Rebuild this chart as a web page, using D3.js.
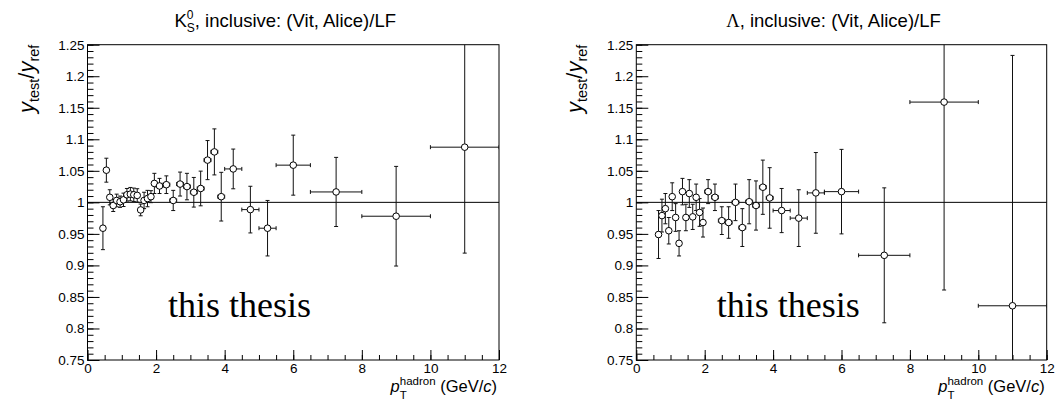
<!DOCTYPE html>
<html>
<head>
<meta charset="utf-8">
<script src="https://cdn.jsdelivr.net/npm/d3@7"></script>
<style>
  html, body { margin: 0; padding: 0; background: #fff; }
  svg { display: block; }
</style>
</head>
<body>
<svg id="chart" width="1055" height="399"></svg>
<script>
// ---------- data ----------
const k0sX    = [0.45,0.55,0.65,0.75,0.85,0.95,1.05,1.15,1.25,1.35,1.45,1.55,1.65,1.75,1.85,1.95,
                 2.1,2.3,2.5,2.7,2.9,3.1,3.3,3.5,3.7,3.9,4.25,4.75,5.25,6,7.25,9,11];
const k0sXerr = [0.05,0.05,0.05,0.05,0.05,0.05,0.05,0.05,0.05,0.05,0.05,0.05,0.05,0.05,0.05,0.05,
                 0.1,0.1,0.1,0.1,0.1,0.1,0.1,0.1,0.1,0.1,0.25,0.25,0.25,0.5,0.75,1,1];
const k0sY    = [0.959,1.051,1.008,0.995,1.003,1.001,1.004,1.012,1.013,1.012,1.011,0.988,1.003,1.006,1.009,1.030,
                 1.026,1.028,1.003,1.029,1.025,1.016,1.022,1.067,1.080,1.009,1.053,0.9885,0.959,1.059,1.0165,0.978,1.0875];
const k0sYerr = [0.034,0.019,0.012,0.0095,0.010,0.009,0.0106,0.010,0.0106,0.0106,0.0106,0.0093,0.013,0.013,0.0095,0.016,
                 0.012,0.014,0.016,0.019,0.021,0.0235,0.0275,0.031,0.0365,0.0386,0.0315,0.037,0.044,0.0476,0.0548,0.079,0.168];

const lamX    = [0.65,0.75,0.85,0.95,1.05,1.15,1.25,1.35,1.45,1.55,1.65,1.75,1.85,1.95,
                 2.1,2.3,2.5,2.7,2.9,3.1,3.3,3.5,3.7,3.9,4.25,4.75,5.25,6,7.25,9,11];
const lamXerr = [0.05,0.05,0.05,0.05,0.05,0.05,0.05,0.05,0.05,0.05,0.05,0.05,0.05,0.05,
                 0.1,0.1,0.1,0.1,0.1,0.1,0.1,0.1,0.1,0.1,0.25,0.25,0.25,0.5,0.75,1,1];
const lamY    = [0.949,0.979,0.990,0.955,1.009,0.976,0.935,1.017,0.976,1.014,0.977,1.008,0.984,0.968,
                 1.017,1.008,0.971,0.968,1.000,0.960,1.001,0.995,1.024,1.007,0.987,0.975,1.015,1.017,0.916,1.159,0.836];
const lamYerr = [0.038,0.026,0.024,0.021,0.022,0.022,0.020,0.021,0.021,0.022,0.020,0.021,0.022,0.023,
                 0.019,0.021,0.022,0.025,0.029,0.030,0.035,0.039,0.043,0.048,0.035,0.045,0.064,0.067,0.107,0.298,0.397];

const xTickValues = [0,2,4,6,8,10,12];
const xTickLabels = ["0","2","4","6","8","10","12"];
const yTickValues = [0.75,0.8,0.85,0.9,0.95,1,1.05,1.1,1.15,1.2,1.25];
const yTickLabels = ["0.75","0.8","0.85","0.9","0.95","1","1.05","1.1","1.15","1.2","1.25"];
const xDomain = [0,12];
const yDomain = [0.75,1.25];
const refLine = 1;
const watermark = "this thesis";

// ---------- drawing ----------
const svg = d3.select("#chart");
const SANS = "'Liberation Sans', Arial, Helvetica, sans-serif";
const SERIF = "'Liberation Serif', 'Times New Roman', serif";

function rich(g, parts) {
  let x = 0, lastStart = 0;
  parts.forEach(p => {
    const start = p.stack ? lastStart : x;
    const el = g.append("text")
      .attr("x", start).attr("y", p.dy || 0)
      .style("font-size", p.size + "px")
      .style("font-family", p.family || SANS)
      .style("font-style", p.italic ? "italic" : "normal")
      .attr("fill", "#000")
      .text(p.t);
    const w = el.node().getComputedTextLength();
    if (p.stack) { x = Math.max(x, start + w); }
    else { lastStart = start; x = start + w; }
  });
  return x;
}

const panels = [
  { id: 0, x0: 87.5, x1: 499, X: k0sX, XE: k0sXerr, Y: k0sY, YE: k0sYerr,
    title: [{t:"K",size:18.5},{t:"0",size:12,dy:-8},{t:"S",size:12,dy:5.5,stack:true},{t:", inclusive: (Vit, Alice)/LF",size:18.5}] },
  { id: 1, x0: 636.3, x1: 1046.7, X: lamX, XE: lamXerr, Y: lamY, YE: lamYerr,
    title: [{t:"\u039B",size:18.5,family:SERIF},{t:", inclusive: (Vit, Alice)/LF",size:18.5}] }
];
const yTop = 44.7, yBot = 360;

panels.forEach(P => {
  const x = d3.scaleLinear().domain(xDomain).range([P.x0, P.x1]);
  const y = d3.scaleLinear().domain(yDomain).range([yBot, yTop]);
  const g = svg.append("g");

  const clipId = "clip" + P.id;
  svg.append("clipPath").attr("id", clipId).append("rect")
    .attr("x", P.x0).attr("y", yTop).attr("width", P.x1 - P.x0).attr("height", yBot - yTop);

  // frame
  g.append("rect").attr("x", P.x0).attr("y", yTop)
    .attr("width", P.x1 - P.x0).attr("height", yBot - yTop)
    .attr("fill", "none").attr("stroke", "#000").attr("stroke-width", 1);

  // y axis minor
  const yMinor = d3.range(0.75, 1.2501, 0.01);
  g.append("g").attr("transform", `translate(${P.x0},0)`)
    .call(d3.axisLeft(y).tickValues(yMinor).tickSize(-6).tickFormat(""))
    .call(a => a.select(".domain").remove());
  // y axis major
  g.append("g").attr("transform", `translate(${P.x0},0)`)
    .call(d3.axisLeft(y).tickValues(yTickValues).tickSize(-12).tickPadding(3)
      .tickFormat((d,i) => yTickLabels[i]))
    .call(a => a.select(".domain").remove())
    .call(a => a.selectAll("text").style("font-size", "13.5px").style("font-family", SANS).attr("fill","#000"));
  // x axis minor
  const xMinor = d3.range(0, 12.01, 0.5);
  g.append("g").attr("transform", `translate(0,${yBot})`)
    .call(d3.axisBottom(x).tickValues(xMinor).tickSize(-5).tickFormat(""))
    .call(a => a.select(".domain").remove());
  // x axis major
  g.append("g").attr("transform", `translate(0,${yBot})`)
    .call(d3.axisBottom(x).tickValues(xTickValues).tickSize(-10).tickPadding(3)
      .tickFormat((d,i) => xTickLabels[i]))
    .call(a => a.select(".domain").remove())
    .call(a => a.selectAll("text").style("font-size", "13.5px").style("font-family", SANS).attr("fill","#000"));
  g.selectAll(".tick line").attr("stroke", "#000");

  // reference line
  g.append("line").attr("x1", x(xDomain[0])).attr("x2", x(xDomain[1]))
    .attr("y1", y(refLine)).attr("y2", y(refLine)).attr("stroke", "#000").attr("stroke-width", 1);

  // watermark
  g.append("text").attr("x", x(2.35)).attr("y", 317)
    .style("font-family", SERIF).style("font-size", "36px").attr("fill", "#000").text(watermark);

  // data
  const data = P.X.map((v,i) => ({x:v, xe:P.XE[i], y:P.Y[i], ye:P.YE[i]}));
  const eg = g.append("g").attr("clip-path", `url(#${clipId})`).attr("stroke", "#111").attr("stroke-width", 1);
  const cap = 2;
  data.forEach(d => {
    const cx = x(d.x), cy = y(d.y);
    eg.append("line").attr("x1", cx).attr("x2", cx).attr("y1", y(d.y - d.ye)).attr("y2", y(d.y + d.ye));
    eg.append("line").attr("x1", cx - cap).attr("x2", cx + cap).attr("y1", y(d.y - d.ye)).attr("y2", y(d.y - d.ye));
    eg.append("line").attr("x1", cx - cap).attr("x2", cx + cap).attr("y1", y(d.y + d.ye)).attr("y2", y(d.y + d.ye));
    eg.append("line").attr("x1", x(d.x - d.xe)).attr("x2", x(d.x + d.xe)).attr("y1", cy).attr("y2", cy);
    eg.append("line").attr("x1", x(d.x - d.xe)).attr("x2", x(d.x - d.xe)).attr("y1", cy - cap).attr("y2", cy + cap);
    eg.append("line").attr("x1", x(d.x + d.xe)).attr("x2", x(d.x + d.xe)).attr("y1", cy - cap).attr("y2", cy + cap);
  });
  g.append("g").attr("clip-path", `url(#${clipId})`).selectAll("circle").data(data).join("circle")
    .attr("cx", d => x(d.x)).attr("cy", d => y(d.y)).attr("r", 3.3)
    .attr("fill", "#fff").attr("stroke", "#000").attr("stroke-width", 1);

  // title
  const tg = g.append("g");
  const tw = rich(tg, P.title);
  const cxT = (P.x0 + P.x1) / 2 - 8;
  tg.attr("transform", `translate(${cxT - tw/2},26.5)`);

  // x title
  const xg = g.append("g");
  const xw = rich(xg, [
    {t:"p",size:16.5,italic:true},
    {t:"hadron",size:11.5,dy:-7.5},
    {t:"T",size:11.5,dy:6.5,stack:true},
    {t:"\u00A0(GeV/",size:16.5},
    {t:"c",size:16.5,italic:true},
    {t:")",size:16.5}
  ]);
  xg.attr("transform", `translate(${P.x1 - 2 - xw},392)`);

  // y title
  const yg = g.append("g");
  const yw = rich(yg, [
    {t:"y",size:22,italic:true},
    {t:"test",size:14.5,dy:5},
    {t:"/",size:22},
    {t:"y",size:22,italic:true},
    {t:"ref",size:14.5,dy:5}
  ]);
  yg.attr("transform", `translate(${P.x0 - 54},${yTop + yw}) rotate(-90)`);
});
</script>
</body>
</html>
